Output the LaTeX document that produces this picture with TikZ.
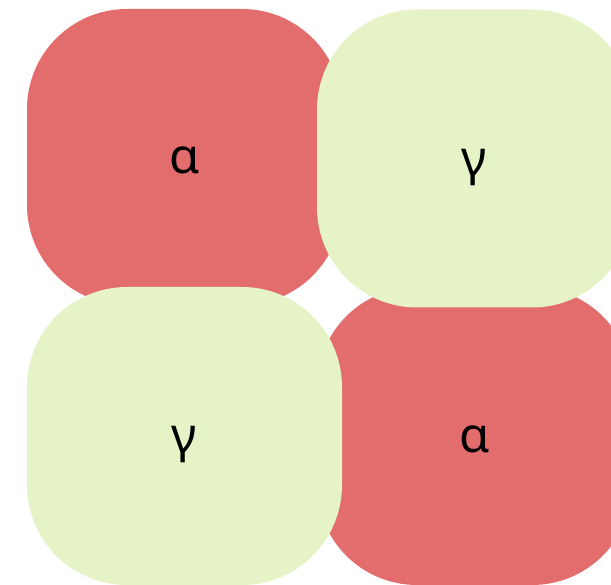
\documentclass[tikz,border=0pt]{standalone}
\usepackage{fontspec}
\setmainfont{Noto Sans}
\usepackage{xcolor}
\usepackage{tikz}
\definecolor{tilered}{HTML}{E26D6C}
\definecolor{tilegreen}{HTML}{E5F3C6}
\tikzset{
  tile/.style={rectangle,rounded corners=100pt,inner sep=0pt,
    minimum width=315pt,minimum height=298pt,
    text height=34pt,text depth=0pt,
    font=\fontsize{49}{59}\selectfont},
  red tile/.style={tile,fill=tilered},
  green tile/.style={tile,fill=tilegreen}
}

\begin{document}
\begin{tikzpicture}[x=1pt,y=-1pt]
  \useasboundingbox (0,0) rectangle (611,585);
  \clip (0,0) rectangle (611,585);
  \node[red tile,minimum height=296pt] (alphaA) at (184.5,157) {α};
  \node[red tile] (alphaB) at (474.5,436) {α};
  \node[green tile] (gammaA) at (474.5,158.5) {γ};
  \node[green tile] (gammaB) at (184.5,436) {γ};
\end{tikzpicture}
\end{document}
